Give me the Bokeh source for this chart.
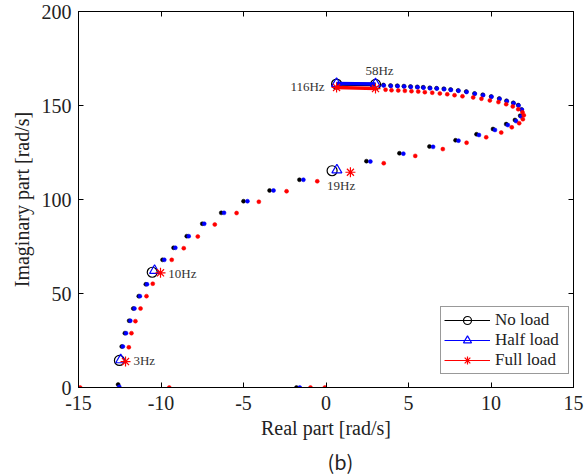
from bokeh.plotting import figure
from bokeh.models import (Range1d, LinearAxis, Legend, LegendItem, Label, Title,
                          FixedTicker, PrintfTickFormatter, CustomJSTickFormatter)
from bokeh.embed import file_html
from bokeh.resources import INLINE

# ---------------- data (rad/s) ----------------
# No load eigenvalue trace (small dots)
nl_re = [-12.38, -12.19, -11.93, -11.68, -11.35, -10.92, -9.91, -9.24, -8.44, -7.50,
         -6.35, -5.00, -3.42, -1.61, 2.45, 4.45, 6.27, 7.85, 9.12, 10.12, 10.92, 11.45,
         11.77, 11.85, 11.65, 11.35, 10.94, 10.50, 10.01, 9.50, 9.00, 8.50, 8.01, 7.55,
         7.14, 6.70, 6.29, 5.89, 5.53, 5.12, 4.72, 4.32, 3.91, 3.48, -12.60, -1.79]
nl_im = [21.8, 28.9, 35.5, 42.0, 48.6, 54.9, 67.9, 74.3, 80.5, 87.1, 92.9, 99.1, 104.8,
         110.5, 120.4, 124.6, 128.2, 131.5, 134.7, 137.5, 140.1, 142.3, 144.6, 147.9,
         150.2, 151.4, 152.5, 153.7, 154.8, 155.7, 156.4, 157.4, 158.0, 158.5, 158.9,
         159.2, 159.4, 159.7, 159.9, 160.1, 160.3, 160.5, 160.6, 160.9, 1.6, 0.0]

# Half load
hl_re = [-12.31, -12.12, -11.86, -11.61, -11.28, -10.85, -9.80, -9.13, -8.32, -7.38,
         -6.18, -4.76, -3.18, -1.37, 2.69, 4.69, 6.49, 8.03, 9.27, 10.24, 11.02, 11.52,
         11.82, 11.87, 11.67, 11.37, 10.96, 10.52, 10.03, 9.52, 9.02, 8.52, 8.03, 7.57,
         7.16, 6.72, 6.31, 5.91, 5.55, 5.14, 4.74, 4.34, 3.93, 3.50, -12.53, -1.59]
hl_im = [21.8, 28.9, 35.5, 42.0, 48.6, 54.9, 67.9, 74.3, 80.5, 87.1, 92.9, 99.1, 104.8,
         110.5, 120.2, 124.4, 128.0, 131.3, 134.3, 137.0, 139.6, 141.7, 144.2, 147.8,
         150.0, 151.2, 152.3, 153.5, 154.6, 155.5, 156.2, 157.2, 157.8, 158.3, 158.7,
         159.0, 159.2, 159.5, 159.7, 159.9, 160.1, 160.3, 160.4, 160.7, 0.4, 0.0]

# Full load
fl_re = [-11.95, -11.79, -11.55, -11.24, -10.88, -10.50, -9.35, -8.62, -7.77, -6.74,
         -5.42, -4.07, -2.39, -0.53, 3.50, 5.41, 7.08, 8.52, 9.71, 10.62, 11.26, 11.71,
         11.93, 11.99, 11.91, 11.65, 11.32, 10.92, 10.45, 9.93, 9.42, 8.92, 8.27, 7.79,
         7.35, 6.90, 6.44, 5.99, 5.59, 5.18, 4.78, 4.38, 3.97, 3.61,
         -14.90, -9.50, -0.94, -0.07]
fl_im = [21.4, 28.9, 35.3, 42.0, 48.6, 55.2, 67.9, 74.1, 80.3, 86.7, 92.8, 98.8, 104.4,
         109.7, 119.3, 123.2, 126.8, 130.2, 133.1, 135.6, 138.4, 140.6, 142.7, 144.8,
         146.4, 148.0, 149.5, 150.7, 151.8, 152.7, 153.6, 154.3, 154.9, 155.5, 156.0,
         156.4, 156.8, 157.1, 157.4, 157.6, 157.8, 158.0, 158.1, 158.4,
         0.0, 0.0, 0.0, 0.0]

# marked frequencies
mk_labels = ["3Hz", "10Hz", "19Hz", "58Hz", "116Hz"]
nl_mk_re = [-12.52, -10.53, 0.37, 3.00, 0.64]
nl_mk_im = [14.4, 61.3, 115.3, 161.2, 161.4]
hl_mk_re = [-12.44, -10.39, 0.66, 3.00, 0.64]
hl_mk_im = [14.7, 62.2, 115.7, 161.5, 161.7]
fl_mk_re = [-12.15, -10.03, 1.48, 3.00, 0.64]
fl_mk_im = [13.8, 61.0, 114.5, 159.0, 159.6]

x_ticks = [-15, -10, -5, 0, 5, 10, 15]
y_ticks = [0, 50, 100, 150, 200]

SERIF = "Liberation Serif"

p = figure(frame_width=495, frame_height=376, min_border_left=78, min_border_right=15,
           min_border_top=11, min_border_bottom=89,
           x_range=Range1d(-15, 15), y_range=Range1d(0, 200),
           output_backend="svg", toolbar_location=None,
           background_fill_color="white", border_fill_color="white")
p.grid.visible = False
p.outline_line_color = "black"
p.outline_line_width = 1

for ax in (p.xaxis[0], p.yaxis[0]):
    ax.major_tick_in = 5
    ax.major_tick_out = 0
    ax.minor_tick_line_color = None
    ax.axis_line_color = "black"
    ax.major_tick_line_color = "black"
    ax.major_label_text_font = SERIF
    ax.major_label_text_font_size = "20px"
    ax.major_label_text_color = "#222222"
    ax.axis_label_text_font = SERIF
    ax.axis_label_text_font_size = "20px"
    ax.axis_label_text_font_style = "normal"
    ax.axis_label_text_color = "#222222"
    ax.formatter = PrintfTickFormatter(format="%d")

p.xaxis[0].ticker = FixedTicker(ticks=x_ticks)
p.yaxis[0].ticker = FixedTicker(ticks=y_ticks)
p.xaxis[0].axis_label = "Real part [rad/s]"
p.yaxis[0].axis_label = "Imaginary part [rad/s]"
p.xaxis[0].major_label_standoff = 8
p.xaxis[0].axis_label_standoff = 4
p.yaxis[0].major_label_standoff = 7
p.yaxis[0].axis_label_standoff = 6

blank = CustomJSTickFormatter(code="return ''")
top = LinearAxis(ticker=FixedTicker(ticks=x_ticks), major_tick_in=5, major_tick_out=0,
                 minor_tick_line_color=None, formatter=blank, major_label_standoff=0)
right = LinearAxis(ticker=FixedTicker(ticks=y_ticks), major_tick_in=5, major_tick_out=0,
                   minor_tick_line_color=None, formatter=blank, major_label_standoff=0)
p.add_layout(top, "above")
p.add_layout(right, "right")

series = [
    ("No load", "black", nl_re, nl_im, nl_mk_re, nl_mk_im, "circle"),
    ("Half load", "blue", hl_re, hl_im, hl_mk_re, hl_mk_im, "triangle"),
    ("Full load", "red", fl_re, fl_im, fl_mk_re, fl_mk_im, "asterisk"),
]

items = []
for name, col, xr, yi, mx, my, mk in series:
    p.line(mx[3:], my[3:], line_color=col, line_width=3.5)
    lr = p.line(mx[3:], my[3:], line_color=col, line_width=1)
    p.scatter(xr, yi, marker="circle", size=4, fill_color=col, line_color=col,
              line_width=0.5)
    mr = p.scatter(mx, my, marker=mk, size=10, fill_color=None, line_color=col,
                   line_width=1.2)
    items.append(LegendItem(label=name, renderers=[lr, mr]))

legend = Legend(items=items, location=(362, 13), border_line_color="#333333",
                border_line_width=1, background_fill_color="white",
                background_fill_alpha=1, padding=3, spacing=0, margin=0,
                label_text_font=SERIF, label_text_font_size="17px",
                label_text_color="#222222",
                glyph_width=46, glyph_height=20, label_height=20, label_standoff=5,
                label_width=70)
p.add_layout(legend)

# frequency annotations anchored to the No load markers
offsets = [(14, 0, "left"), (16, -1, "left"), (9, -15, "center"),
           (4, 14, "center"), (-12, -2, "right")]
for i, lab in enumerate(mk_labels):
    dx, dy, al = offsets[i]
    p.add_layout(Label(x=nl_mk_re[i], y=nl_mk_im[i], x_offset=dx, y_offset=dy,
                       text=lab, text_align=al, text_baseline="middle",
                       text_font=SERIF, text_font_size="13px", text_color="#333333"))

p.add_layout(Title(text="(b)", align="left", offset=249, standoff=6,
                   text_font="Noto Sans CJK SC", text_font_size="20px",
                   text_font_style="normal", text_color="#222222"), "below")

open("out.html", "w").write(file_html(p, INLINE))
